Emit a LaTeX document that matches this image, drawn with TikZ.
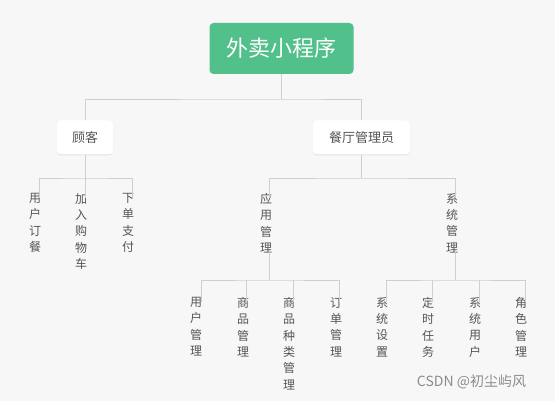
\documentclass[tikz,border=0pt]{standalone}
\usepackage{fontspec}
\setmainfont{Noto Sans CJK SC}
\newfontfamily\wmfont{Noto Sans CJK SC}
\usetikzlibrary{shadows}
\definecolor{bg}{HTML}{F7F7F7}
\definecolor{rootgreen}{HTML}{52C08B}
\definecolor{linegray}{HTML}{CFCFCF}
\definecolor{txt}{HTML}{555555}
\tikzset{
  rootbox/.style={fill=rootgreen, rounded corners=4pt, minimum width=144pt, minimum height=51pt, text=white, font=\fontsize{22}{24}\selectfont, inner sep=0pt},
  midbox/.style={fill=white, rounded corners=4pt, minimum height=34pt, text=txt, font=\fontsize{13}{16}\selectfont, inner sep=0pt, drop shadow={shadow xshift=0pt, shadow yshift=-1pt, opacity=0.08, fill=black}},
  leaf/.style={text=txt, font=\fontsize{12}{16.4}\selectfont, align=center, anchor=north, inner sep=0pt},
  conn/.style={draw=linegray, line width=1pt},
  conn2/.style={draw=linegray, line width=0.8pt}
}
\begin{document}
\begin{tikzpicture}[x=1pt, y=-1pt]
\fill[bg] (0,0) rectangle (555,401);
\useasboundingbox (0,0) rectangle (555,401);

\node[rootbox] (root) at (281.5,48.5) {外卖小程序};
\node[midbox, minimum width=56pt] (gk) at (85,137.5) {顾客};
\node[midbox, minimum width=97pt] (ct) at (361.5,137.5) {餐厅管理员};

% level 1 connectors
\draw[conn] (root.south) -- (281.5,100) coordinate (h1);
\draw[conn] (gk.north) |- (h1) -| (ct.north);

% customer leaves
\node[leaf] (c1) at (35,193) {用\\户\\订\\餐};
\node[leaf] (c2) at (81,193) {加\\入\\购\\物\\车};
\node[leaf] (c3) at (128,193) {下\\单\\支\\付};
\coordinate (gkh) at (85,178);
\draw[conn2] (gk.south) -- (gkh);
\draw[conn2] ([xshift=4pt,yshift=-5pt]c1.north) |- (gkh) -| ([xshift=4pt,yshift=-5pt]c3.north);
\draw[conn2] (gkh) -- ([xshift=4pt,yshift=-5pt]c2.north);

% manager children
\node[leaf] (a) at (266,193) {应\\用\\管\\理};
\node[leaf] (s) at (452,193) {系\\统\\管\\理};
\coordinate (cth) at (361.5,178);
\draw[conn2] (ct.south) -- (cth);
\draw[conn2] ([xshift=3pt,yshift=-5pt]a.north) |- (cth) -| ([xshift=3pt,yshift=-5pt]s.north);

% app management leaves
\node[leaf] (a1) at (196,297) {用\\户\\管\\理};
\node[leaf] (a2) at (243,297) {商\\品\\管\\理};
\node[leaf] (a3) at (289,297) {商\\品\\种\\类\\管\\理};
\node[leaf] (a4) at (336,297) {订\\单\\管\\理};
\coordinate (ah) at (269,280);
\draw[conn2] ([xshift=3pt,yshift=3pt]a.south) -- (ah);
\draw[conn2] ([xshift=5pt,yshift=-5pt]a1.north) |- (ah) -| ([xshift=3pt,yshift=-5pt]a4.north);
\draw[conn2] ([xshift=3.5pt,yshift=-5pt]a2.north) -- ([xshift=3.5pt]a2.north |- ah);
\draw[conn2] ([xshift=4pt,yshift=-5pt]a3.north) -- ([xshift=4pt]a3.north |- ah);

% system management leaves
\node[leaf] (s1) at (382,297) {系\\统\\设\\置};
\node[leaf] (s2) at (428,297) {定\\时\\任\\务};
\node[leaf] (s3) at (475,297) {系\\统\\用\\户};
\node[leaf] (s4) at (521,297) {角\\色\\管\\理};
\coordinate (sh) at (455,280);
\draw[conn2] ([xshift=3pt,yshift=3pt]s.south) -- (sh);
\draw[conn2] ([xshift=4pt,yshift=-5pt]s1.north) |- (sh) -| ([xshift=4pt,yshift=-5pt]s4.north);
\draw[conn2] ([xshift=4pt,yshift=-5pt]s2.north) -- ([xshift=4pt]s2.north |- sh);
\draw[conn2] ([xshift=4pt,yshift=-5pt]s3.north) -- ([xshift=4pt]s3.north |- sh);

% watermark
\node[text=black!45, font=\wmfont\fontsize{14}{16}\selectfont, inner sep=0pt] (wm) at (471.5,382) {CSDN @初尘屿风};
\end{tikzpicture}
\end{document}
